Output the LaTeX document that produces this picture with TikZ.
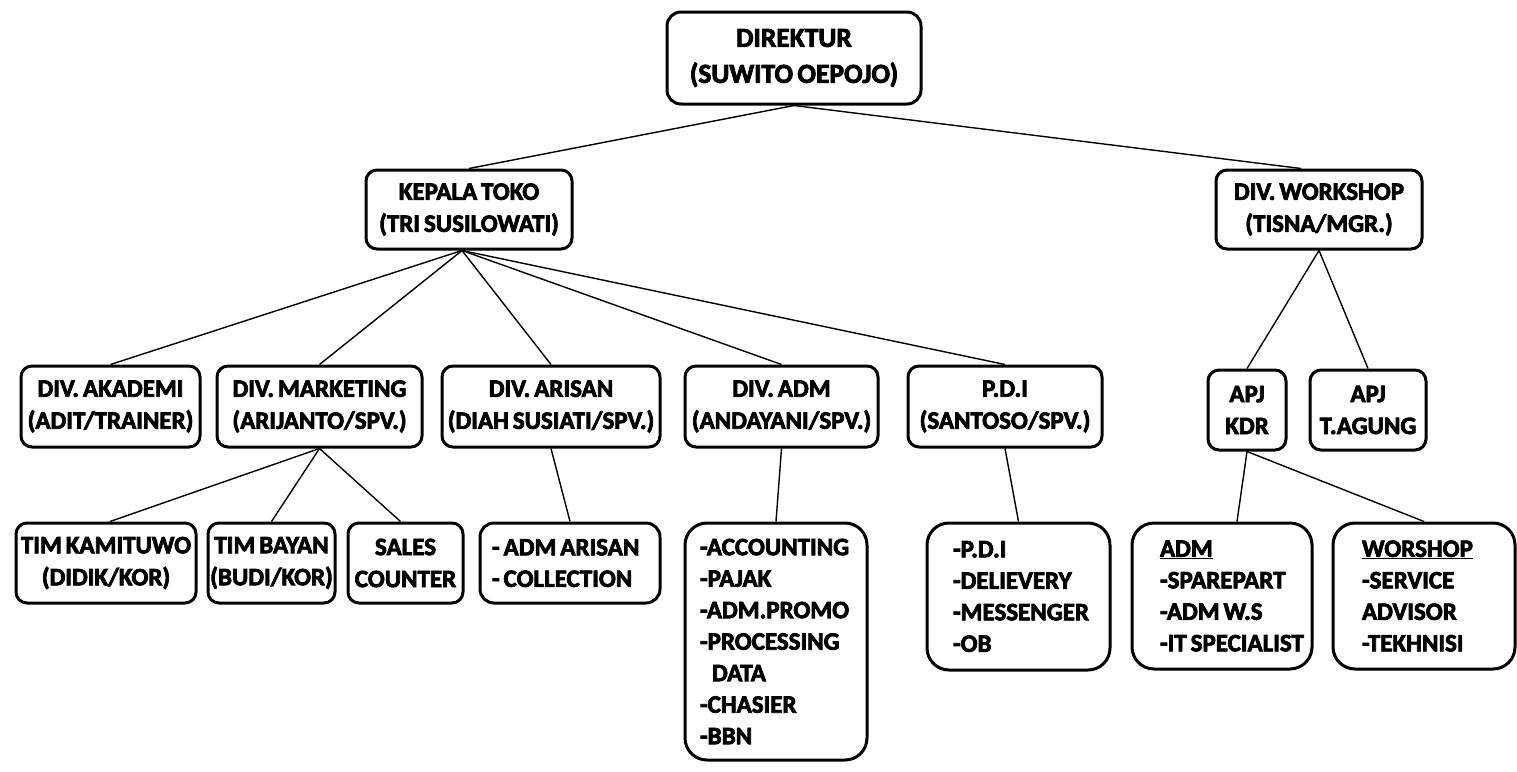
\documentclass[tikz,border=0pt]{standalone}
\usepackage{fontspec}
\setmainfont{Carlito}[BoldFeatures={FakeBold=3}, WordSpace=0.7]
\newcommand\myline[1]{\mbox{\spaceskip=0pt\xspaceskip=0pt\relax #1}}
\begin{document}
\begin{tikzpicture}[x=1pt,y=-1pt,
  box/.style={draw, line width=3pt, rounded corners=11pt, align=center, inner sep=0pt,
    font=\bfseries\fontsize{25}{32}\selectfont},
  bigbox/.style={box, font=\bfseries\fontsize{27.5}{36}\selectfont, rounded corners=14pt},
  listbox/.style={box, rounded corners=22pt, align=left, font=\bfseries\fontsize{25}{31.5}\selectfont},
  link/.style={line width=1.4pt}]
\useasboundingbox (0,0) rectangle (1517,771);
% level 1
\node[bigbox, minimum width=254pt, minimum height=92pt] (dir) at (794,58) {DIREKTUR\\(SUWITO OEPOJO)};
% level 2
\node[box, minimum width=206pt, minimum height=79pt] (kep) at (469,209.5) {KEPALA TOKO\\(TRI SUSILOWATI)};
\node[box, minimum width=206pt, minimum height=79pt] (ws) at (1319,209.5) {DIV. WORKSHOP\\(TISNA/MGR.)};
% level 3
\node[box, minimum width=179pt, minimum height=81pt] (aka) at (110.5,406.5) {DIV. AKADEMI\\(ADIT/TRAINER)};
\node[box, minimum width=205pt, minimum height=81pt] (mkt) at (319.5,406.5) {DIV. MARKETING\\(ARIJANTO/SPV.)};
\node[box, minimum width=218pt, minimum height=81pt] (ari) at (551,406.5) {DIV. ARISAN\\(DIAH SUSIATI/SPV.)};
\node[box, minimum width=193pt, minimum height=81pt] (adm) at (781.5,406.5) {DIV. ADM\\(ANDAYANI/SPV.)};
\node[box, minimum width=194pt, minimum height=81pt] (pdi) at (1005,406.5) {P.D.I\\(SANTOSO/SPV.)};
\node[box, minimum width=78pt, minimum height=80pt] (kdr) at (1247,410) {APJ\\KDR};
\node[box, minimum width=116pt, minimum height=80pt] (tag) at (1368,410) {APJ\\T.AGUNG};
% level 4
\node[box, minimum width=180pt, minimum height=80pt] (kam) at (106,563) {TIM KAMITUWO\\(DIDIK/KOR)};
\node[box, minimum width=127pt, minimum height=80pt] (bay) at (271.5,563) {TIM BAYAN\\(BUDI/KOR)};
\node[box, minimum width=115pt, minimum height=80pt] (sal) at (405.5,563) {SALES\\COUNTER};
\node[listbox, rounded corners=14pt, text width=156pt, inner xsep=12pt, minimum height=80pt] (arl) at (570,563)
  {\myline{- ADM ARISAN}\\\myline{- COLLECTION}};
\node[listbox, text width=152pt, inner xsep=15pt, minimum height=237pt] (adl) at (776,641.5)
  {\myline{-ACCOUNTING}\\\myline{-PAJAK}\\\myline{-ADM.PROMO}\\\myline{-PROCESSING}\\\myline{\hspace*{12pt}DATA}\\\myline{-CHASIER}\\\myline{-BBN}};
\node[listbox, text width=131pt, inner xsep=26pt, minimum height=147pt] (pdl) at (1018.5,596.5)
  {\myline{-P.D.I}\\\myline{-DELIEVERY}\\\myline{-MESSENGER}\\\myline{-OB}};
\node[listbox, text width=124pt, inner xsep=28pt, minimum height=146pt] (akl) at (1222,596)
  {\myline{\underline{ADM}}\\\myline{-SPAREPART}\\\myline{-ADM W.S}\\\myline{-IT SPECIALIST}};
\node[listbox, text width=124pt, inner xsep=29pt, minimum height=146pt] (wsl) at (1424,596)
  {\myline{\underline{WORSHOP}}\\\myline{-SERVICE}\\\myline{ADVISOR}\\\myline{-TEKHNISI}};
% connectors
\draw[link] (dir.south) -- (kep.north);
\draw[link] (dir.south) -- ([xshift=-18pt]ws.north);
\foreach \t in {aka,mkt,ari,adm,pdi} \draw[link] ([xshift=-7pt]kep.south) -- (\t.north);
\draw[link] (mkt.south) -- ([xshift=4pt]kam.north);
\draw[link] (mkt.south) -- (bay.north);
\draw[link] (mkt.south) -- ([xshift=-5pt]sal.north);
\draw[link] (ari.south) -- (arl.north);
\draw[link] (adm.south) -- (adl.north);
\draw[link] (pdi.south) -- (pdl.north);
\draw[link] (ws.south) -- (kdr.north);
\draw[link] (ws.south) -- (tag.north);
\draw[link] (kdr.south) -- ([xshift=15pt]akl.north);
\draw[link] (kdr.south) -- (wsl.north);
\end{tikzpicture}
\end{document}
